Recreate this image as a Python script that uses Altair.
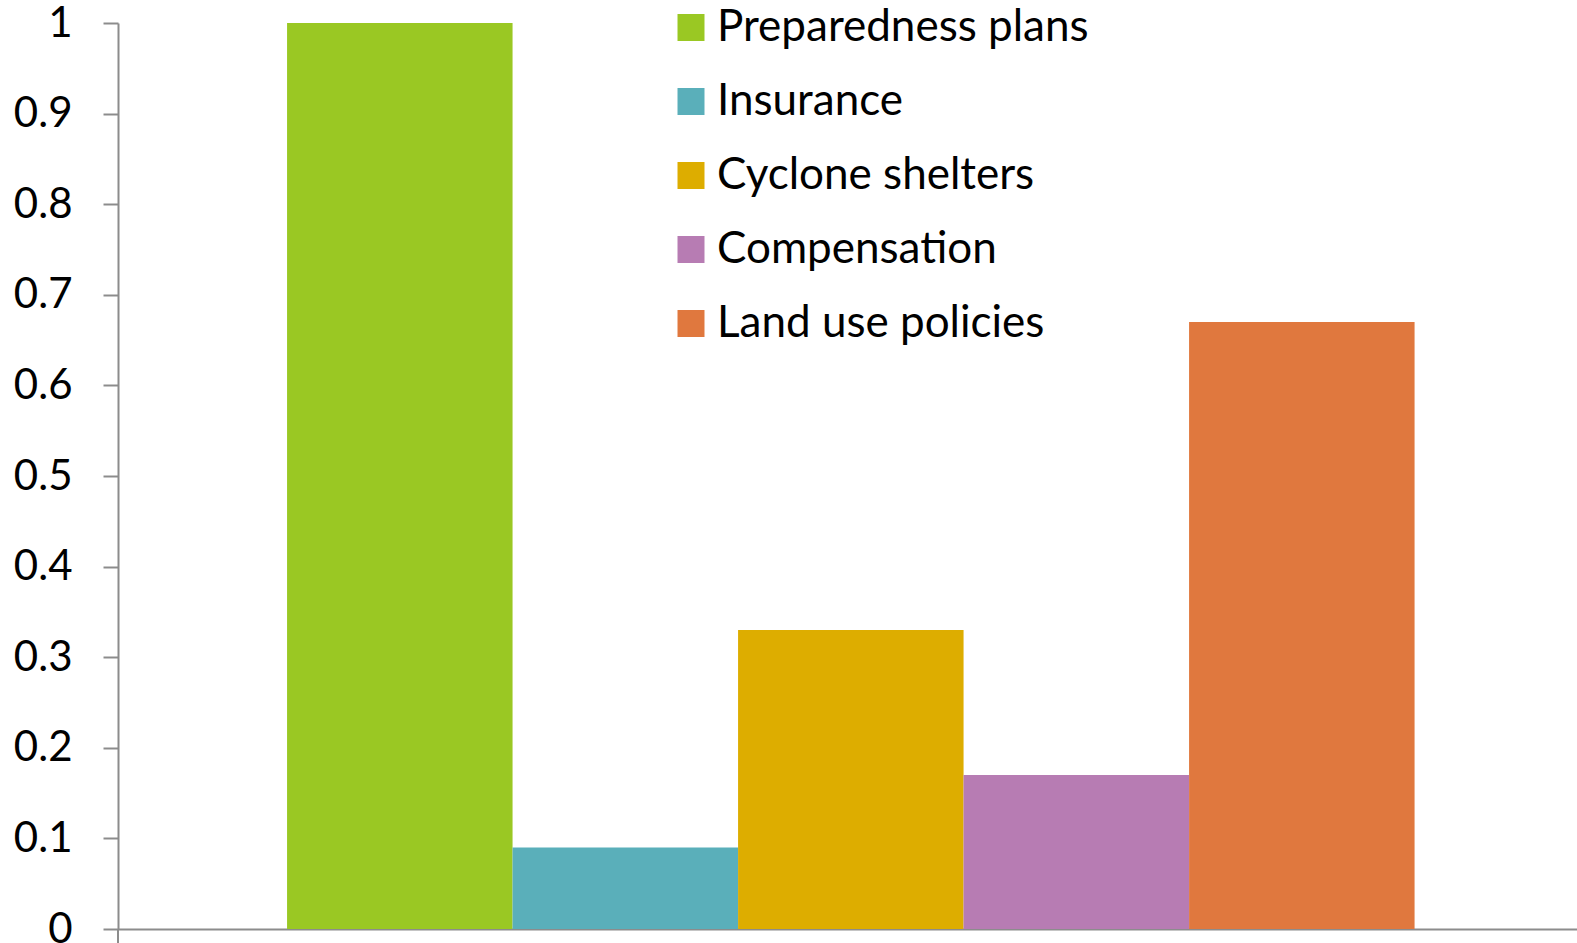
import altair as alt
import pandas as pd

categories = ["Preparedness plans", "Insurance", "Cyclone shelters", "Compensation", "Land use policies"]
values = [1.0, 0.09, 0.33, 0.17, 0.67]
colors = ["#9AC823", "#5AAFBA", "#DDAD00", "#B77CB3", "#E0783E"]
y_ticks = [0, 0.1, 0.2, 0.3, 0.4, 0.5, 0.6, 0.7, 0.8, 0.9, 1]

df = pd.DataFrame({"series": categories, "value": values})

W, H = 1459, 906
FONT = "Lato"

bars = alt.Chart(df).mark_bar().encode(
    x=alt.X("series:N", sort=categories,
            scale=alt.Scale(paddingInner=0, paddingOuter=0.735, align=0.51),
            axis=alt.Axis(title=None, labels=False, ticks=False, domain=True,
                          domainColor="#8C8C8C", domainWidth=2)),
    y=alt.Y("value:Q", scale=alt.Scale(domain=[0, 1], nice=False),
            axis=alt.Axis(title=None, values=y_ticks, grid=False,
                          labelExpr="format(datum.value, '~g')",
                          tickSize=15, tickColor="#8C8C8C", tickWidth=2,
                          domainColor="#8C8C8C", domainWidth=2,
                          labelFont=FONT, labelFontSize=42, labelColor="#000000",
                          labelPadding=31)),
    color=alt.Color("series:N", sort=categories,
                    scale=alt.Scale(domain=categories, range=colors),
                    legend=alt.Legend(title=None, orient="none", legendX=551, legendY=-17.5,
                                      symbolType="square", symbolSize=729,
                                      symbolStrokeWidth=0, symbolOpacity=1,
                                      labelFont=FONT, labelFontSize=44, labelColor="#000000",
                                      labelOffset=4, rowPadding=30, labelLimit=700)),
)

stub = alt.Chart(df).mark_rule(color="#8C8C8C", strokeWidth=2).encode(
    x=alt.value(0), y=alt.value(H), y2=alt.value(H + 20)
)

chart = alt.layer(bars, stub).properties(
    width=W, height=H,
    background="white",
    padding={"left": 118, "top": 23, "right": 0, "bottom": 14},
    autosize=alt.AutoSizeParams(type="none"),
).configure_view(stroke=None, strokeWidth=0)

chart.save("out.html", embed_options={"renderer": "svg", "actions": False})
